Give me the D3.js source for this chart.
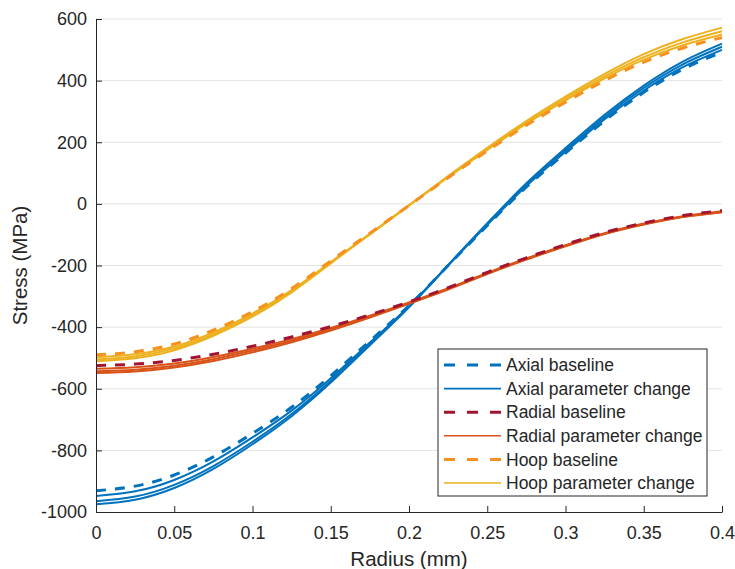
<!DOCTYPE html>
<html>
<head>
<meta charset="utf-8">
<script src="https://cdn.jsdelivr.net/npm/d3@7"></script>
<style>
  body { margin: 0; background: white; }
  text { font-family: "Liberation Sans", Arial, sans-serif; fill: #262626; }
</style>
</head>
<body>
<div id="viz"></div>
<script>
// radius positions (mm)
var radius = [0, 0.025, 0.05, 0.075, 0.1, 0.125, 0.15, 0.175, 0.2, 0.225, 0.25, 0.275, 0.3, 0.325, 0.35, 0.375, 0.4];

// axial stress (MPa)
var axialBase = [-931, -916, -880, -821, -745, -660, -558, -445, -330, -200, -70, 55, 165, 270, 362, 437, 492];
var axialP1 = [-948, -933, -896, -836, -758, -671, -566, -450, -332, -200, -68, 58, 169, 275, 368, 444, 500];
var axialP2 = [-965, -950, -912, -851, -772, -682, -574, -455, -334, -199, -65, 63, 175, 282, 376, 453, 510];
var axialP3 = [-975, -960, -922, -860, -780, -689, -580, -459, -336, -199, -63, 67, 181, 289, 384, 462, 520];

// radial stress (MPa)
var radialBase = [-525, -520, -508, -488, -462, -432, -398, -360, -318, -272, -222, -175, -132, -93, -62, -38, -22];
var radialP1 = [-535, -530, -518, -497, -470, -439, -403, -363, -320, -274, -224, -177, -134, -95, -64, -40, -24];
var radialP2 = [-543, -538, -525, -504, -476, -444, -407, -366, -322, -276, -226, -179, -136, -97, -66, -42, -26];
var radialP3 = [-549, -544, -531, -510, -482, -449, -411, -369, -324, -278, -228, -181, -138, -98, -67, -43, -27];

// hoop stress (MPa)
var hoopBase = [-490, -480, -455, -410, -350, -275, -185, -95, -5, 85, 172, 255, 330, 400, 460, 506, 540];
var hoopP1 = [-498, -488, -463, -417, -356, -280, -189, -97, -5, 87, 175, 260, 336, 407, 468, 515, 550];
var hoopP2 = [-505, -495, -469, -423, -361, -284, -191, -98, -5, 88, 178, 264, 342, 414, 476, 524, 560];
var hoopP3 = [-511, -501, -475, -428, -366, -287, -193, -99, -5, 90, 182, 269, 348, 422, 486, 535, 572];

var xTicks = [0, 0.05, 0.1, 0.15, 0.2, 0.25, 0.3, 0.35, 0.4];
var yTicks = [-1000, -800, -600, -400, -200, 0, 200, 400, 600];

var legendLabels = ['Axial baseline', 'Axial parameter change', 'Radial baseline', 'Radial parameter change', 'Hoop baseline', 'Hoop parameter change'];

// param lines first, baselines on top
var series = [
  {values: axialP1, color: '#0072BD', dash: false},
  {values: axialP2, color: '#0072BD', dash: false},
  {values: axialP3, color: '#0072BD', dash: false},
  {values: radialP1, color: '#D95319', dash: false},
  {values: radialP2, color: '#D95319', dash: false},
  {values: radialP3, color: '#D95319', dash: false},
  {values: hoopP1, color: '#EDB120', dash: false},
  {values: hoopP2, color: '#EDB120', dash: false},
  {values: hoopP3, color: '#EDB120', dash: false},
  {values: axialBase, color: '#0072BD', dash: true},
  {values: radialBase, color: '#A2142F', dash: true},
  {values: hoopBase, color: '#F7901E', dash: true}
];
var legendStyles = [
  {color: '#0072BD', dash: true},
  {color: '#0072BD', dash: false},
  {color: '#A2142F', dash: true},
  {color: '#D95319', dash: false},
  {color: '#F7901E', dash: true},
  {color: '#EDB120', dash: false}
];

var margin = ({top: 19, right: 13, bottom: 57, left: 96}),
    width = 735,
    height = 569;

var x = d3.scaleLinear()
  .domain([0, 0.4])
  .range([margin.left, width - margin.right]);

var y = d3.scaleLinear()
  .domain([-1000, 600])
  .range([height - margin.bottom, margin.top]);

var svg = d3.select('#viz')
  .append('svg')
  .attr('width', width)
  .attr('height', height);

// horizontal grid
svg.append('g')
  .selectAll('line')
  .data(yTicks.slice(1))
  .join('line')
  .attr('x1', x(0))
  .attr('x2', x(0.4))
  .attr('y1', d => y(d))
  .attr('y2', d => y(d))
  .attr('stroke', '#e3e3e3')
  .attr('stroke-width', 1);

// curves
var line = d3.line()
  .x((d, i) => x(radius[i]))
  .y(d => y(d))
  .curve(d3.curveNatural);

svg.append('g')
  .selectAll('path')
  .data(series)
  .join('path')
  .attr('d', d => line(d.values))
  .attr('fill', 'none')
  .attr('stroke', d => d.color)
  .attr('stroke-width', d => d.dash ? 3 : 2)
  .attr('stroke-dasharray', d => d.dash ? '10,9' : null);

// axes
var xAxis = svg.append('g')
  .attr('transform', 'translate(0,' + y(-1000) + ')')
  .call(d3.axisBottom(x).tickValues(xTicks).tickFormat(d3.format('')).tickSizeInner(-6).tickSizeOuter(0).tickPadding(14));

var yAxis = svg.append('g')
  .attr('transform', 'translate(' + x(0) + ',0)')
  .call(d3.axisLeft(y).tickValues(yTicks).tickFormat(d => String(d)).tickSizeInner(-6).tickSizeOuter(0).tickPadding(9));

[xAxis, yAxis].forEach(function(g) {
  g.select('.domain').attr('stroke', '#262626');
  g.selectAll('.tick line').attr('stroke', '#262626');
  g.selectAll('.tick text')
    .attr('fill', '#262626')
    .style('font-size', '18px')
    .style('font-family', '"Liberation Sans", Arial, sans-serif');
});

// axis labels
svg.append('text')
  .attr('x', x(0.2))
  .attr('y', 566)
  .attr('text-anchor', 'middle')
  .style('font-size', '20.5px')
  .text('Radius (mm)');

svg.append('text')
  .attr('transform', 'translate(27,' + y(-200) + ') rotate(-90)')
  .attr('text-anchor', 'middle')
  .style('font-size', '20.5px')
  .text('Stress (MPa)');

// legend
var legend = svg.append('g')
  .attr('transform', 'translate(438,349)');

legend.append('rect')
  .attr('width', 269)
  .attr('height', 147)
  .attr('fill', 'white')
  .attr('stroke', '#262626')
  .attr('stroke-width', 1);

var rows = legend.selectAll('g')
  .data(legendLabels)
  .join('g')
  .attr('transform', (d, i) => 'translate(0,' + (16 + i * 23.6) + ')');

rows.append('line')
  .attr('x1', 6)
  .attr('x2', 63)
  .attr('stroke', (d, i) => legendStyles[i].color)
  .attr('stroke-width', (d, i) => legendStyles[i].dash ? 3 : 1.6)
  .attr('stroke-dasharray', (d, i) => legendStyles[i].dash ? '11,12' : null);

rows.append('text')
  .attr('x', 68)
  .attr('dy', '0.35em')
  .style('font-size', '17.5px')
  .text(d => d);
</script>
</body>
</html>
